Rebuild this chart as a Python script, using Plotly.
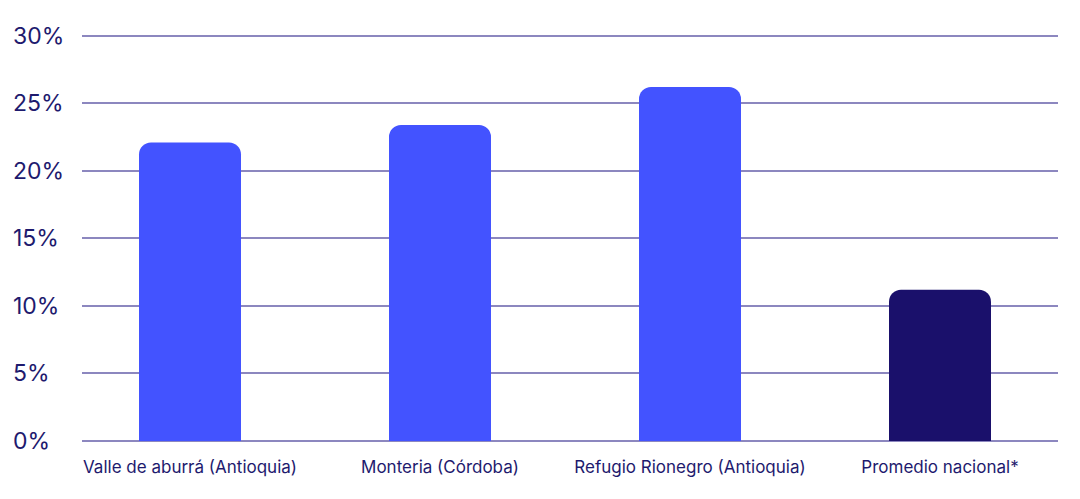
import plotly.graph_objects as go

categories = ["Valle de aburrá (Antioquia)", "Monteria (Córdoba)", "Refugio Rionegro (Antioquia)", "Promedio nacional*"]
values = [22.1, 23.4, 26.2, 11.2]
bar_colors = ["#4353FF", "#4353FF", "#4353FF", "#1A106B"]
y_ticks = [0, 5, 10, 15, 20, 25, 30]
y_tick_labels = ["0%", "5%", "10%", "15%", "20%", "25%", "30%"]

TEXT = "#1E1A6E"
GRID = "#8C87BF"

fig = go.Figure()
fig.add_trace(go.Bar(
    x=list(range(len(categories))),
    y=values,
    marker=dict(color=bar_colors, line=dict(width=0)),
    width=0.408,
    hoverinfo="skip",
))

annotations = []
for v, lab in zip(y_ticks, y_tick_labels):
    annotations.append(dict(
        x=-0.0727, xref="paper", xanchor="left",
        y=v, yref="y", yanchor="middle",
        text=lab, showarrow=False,
        font=dict(family="Inter", size=23, color=TEXT),
    ))

fig.update_layout(
    width=1080, height=499,
    margin=dict(l=82, r=22, t=29, b=58),
    paper_bgcolor="white", plot_bgcolor="white",
    showlegend=False,
    barcornerradius=12,
    annotations=annotations,
    xaxis=dict(
        range=[-0.432, 3.472],
        tickmode="array", tickvals=list(range(len(categories))), ticktext=categories,
        showgrid=False, zeroline=False, showline=False,
        ticks="", ticklabelstandoff=14,
        tickfont=dict(family="Inter", size=17, color=TEXT),
        fixedrange=True,
    ),
    yaxis=dict(
        range=[0, 30.5],
        tickmode="array", tickvals=y_ticks,
        showticklabels=False,
        showgrid=True, gridcolor=GRID, gridwidth=1.5,
        zeroline=True, zerolinecolor=GRID, zerolinewidth=1.5,
        showline=False, ticks="",
        fixedrange=True,
    ),
)

fig.write_html("out.html", config={"displayModeBar": False},
               post_script="document.body.style.margin='0';")
